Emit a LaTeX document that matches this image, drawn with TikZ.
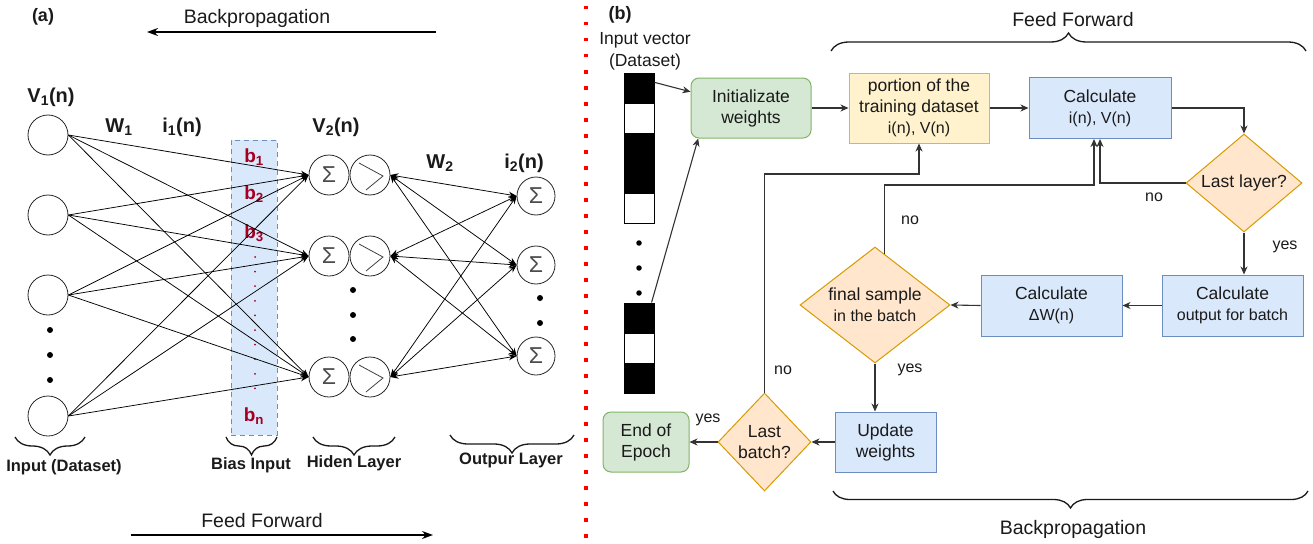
\documentclass[tikz,border=0pt]{standalone}
\usepackage{fontspec}
\setmainfont{Liberation Sans}
\usetikzlibrary{arrows.meta,shapes.geometric,decorations.pathreplacing,calc}
\definecolor{gfill}{HTML}{D5E8D4}
\definecolor{gdraw}{HTML}{82B366}
\definecolor{yfill}{HTML}{FFF2CC}
\definecolor{ydraw}{HTML}{D6B656}
\definecolor{bfill}{HTML}{DAE8FC}
\definecolor{bdraw}{HTML}{6C8EBF}
\definecolor{ofill}{HTML}{FFE6CC}
\definecolor{odraw}{HTML}{D79B00}
\definecolor{bred}{HTML}{A50021}
\definecolor{txt}{HTML}{1A1A1A}
\definecolor{conn}{HTML}{333333}
\begin{document}
\begin{tikzpicture}[x=1pt,y=-1pt,
  neuron/.style={circle,draw=black!85,line width=0.8pt,minimum size=40pt,inner sep=0pt},
  oneuron/.style={circle,draw=black!85,line width=0.8pt,minimum size=38pt,inner sep=0pt},
  sig/.style={text=black!70,font=\fontsize{23}{23}\selectfont},
  net/.style={line width=0.75pt,-{Stealth[length=8pt,width=6pt]}},
  netb/.style={line width=0.75pt,{Stealth[length=8pt,width=6pt]}-{Stealth[length=8pt,width=6pt]}},
  lbl/.style={font=\bfseries\fontsize{20}{23}\selectfont,text=txt},
  blbl/.style={font=\bfseries\fontsize{16.5}{19}\selectfont,text=txt},
  redlbl/.style={font=\bfseries\fontsize{19}{22}\selectfont,text=bred},
  blackdot/.style={circle,fill=black,inner sep=0pt,minimum size=6pt},
  reddot/.style={circle,fill=bred,inner sep=0pt,minimum size=2pt},
  brc/.style={decorate,decoration={brace,amplitude=#1},line width=1.3pt,draw=black!90},
  big/.style={font=\fontsize{19.5}{22}\selectfont,text=txt},
  box/.style={rectangle,line width=1pt,align=center,text=txt,font=\fontsize{17.5}{21}\selectfont,inner sep=0pt},
  dia/.style={diamond,aspect=1.2,fill=ofill,draw=odraw,line width=1pt,align=center,inner sep=0pt,text=txt,font=\fontsize{17.5}{21}\selectfont},
  flow/.style={line width=1.1pt,draw=conn,-{Stealth[length=8pt,width=7pt,inset=2.5pt]}},
  small/.style={font=\fontsize{16}{19}\selectfont,text=txt},
  vblk/.style={rectangle,draw=black,line width=1pt,minimum width=30pt,minimum height=30pt,inner sep=0pt}
]
\useasboundingbox (0,0) rectangle (1313,543);

% ---------------- (a) ----------------
\node[lbl,font=\bfseries\fontsize{18}{21}\selectfont] (alab) at (43,17) {(a)};
\node[big] (bptop) at (257,18) {Backpropagation};
\coordinate (bpa1) at (436,32);
\coordinate (bpa2) at (147,32);
\draw[line width=1.3pt,-{Stealth[length=11pt,width=8pt]}] (bpa1) -- (bpa2);

\node[big] (fftop) at (262,521) {Feed Forward};
\coordinate (ffa1) at (131,535);
\coordinate (ffa2) at (433,535);
\draw[line width=1.3pt,-{Stealth[length=11pt,width=8pt]}] (ffa1) -- (ffa2);

% bias box
\node[draw=bdraw,fill=bfill,dash pattern=on 5pt off 4pt,line width=1pt,minimum width=46pt,minimum height=295pt,inner sep=0pt] (bias) at (254,287.5) {};
\node[redlbl] (b1) at (254,157) {b\textsubscript{1}};
\node[redlbl] (b2) at (254,194) {b\textsubscript{2}};
\node[redlbl] (b3) at (254,233) {b\textsubscript{3}};
\node[redlbl] (bn) at (254,416) {b\textsubscript{n}};
\foreach \k in {0,...,9} \node[reddot] (bd\k) at (255,{257+14.6*\k}) {};

% input neurons
\node[neuron] (in1) at (48,135) {};
\node[neuron] (in2) at (48,215) {};
\node[neuron] (in3) at (48,295) {};
\node[neuron] (in4) at (48,416) {};
\node[blackdot] (id1) at (50,330) {};
\node[blackdot] (id2) at (50,355) {};
\node[blackdot] (id3) at (50,380) {};

% hidden neurons
\foreach \j/\y in {1/175,2/256,3/377}{
  \node[neuron,sig] (hs\j) at (329,\y) {Σ};
  \node[neuron] (ha\j) at (370,\y) {};
  \draw[line width=0.8pt,black!75] ($(ha\j)+(-11,-12)$) -- ($(ha\j)+(13,1)$) -- ($(ha\j)+(-4,15)$);
}
\node[blackdot] (hd1) at (353,290) {};
\node[blackdot] (hd2) at (353,315) {};
\node[blackdot] (hd3) at (353,339) {};

% output neurons
\node[oneuron,sig] (out1) at (536,196) {Σ};
\node[oneuron,sig] (out2) at (536,265) {Σ};
\node[oneuron,sig] (out3) at (536,356) {Σ};
\node[blackdot] (od1) at (540,298) {};
\node[blackdot] (od2) at (540,323) {};

% connections
\foreach \i in {1,...,4}
  \foreach \j in {1,2,3}
    \draw[net] (in\i.east) -- (hs\j.west);
\foreach \j in {1,2,3}
  \foreach \k in {1,2,3}
    \draw[netb] (ha\j.east) -- (out\k.west);

% labels
\node[lbl] (v1l) at (51,97) {V\textsubscript{1}(n)};
\node[lbl] (w1l) at (119,127) {W\textsubscript{1}};
\node[lbl] (i1l) at (182,127) {i\textsubscript{1}(n)};
\node[lbl] (v2l) at (336,127) {V\textsubscript{2}(n)};
\node[lbl] (w2l) at (440,163) {W\textsubscript{2}};
\node[lbl] (i2l) at (524,163) {i\textsubscript{2}(n)};

% braces
\draw[brc=18pt] (85,437) -- (15,437);
\draw[brc=18pt] (277,437) -- (226,437);
\draw[brc=18pt] (395,437) -- (313,437);
\draw[brc=18pt] (574,435) -- (450,435);
\node[blbl] (lin) at (64,467) {Input (Dataset)};
\node[blbl] (lbi) at (251,465) {Bias Input};
\node[blbl] (lhl) at (354,463) {Hiden Layer};
\node[blbl] (lol) at (511,460) {Outpur Layer};

% separator
\coordinate (sep1) at (586,6);
\coordinate (sep2) at (586,543);
\draw[red,line width=3.5pt,dash pattern=on 3.5pt off 12.5pt] (sep1) -- (sep2);

% ---------------- (b) ----------------
\node[lbl,font=\bfseries\fontsize{18}{21}\selectfont] (blab) at (620,15) {(b)};
\node[align=center,font=\fontsize{17.5}{22}\selectfont,text=txt] (ivt) at (645,51) {Input vector\\(Dataset)};

\node[vblk,fill=black] (v1) at (639,88) {};
\node[vblk,fill=white] (v2) at (639,118) {};
\node[vblk,fill=black] (v3) at (639,148) {};
\node[vblk,fill=black] (v4) at (639,178) {};
\node[vblk,fill=white] (v5) at (639,208) {};
\node[blackdot,minimum size=5.5pt] (vd1) at (639,243) {};
\node[blackdot,minimum size=5.5pt] (vd2) at (639,268) {};
\node[blackdot,minimum size=5.5pt] (vd3) at (639,293) {};
\node[vblk,fill=black] (v6) at (639,318) {};
\node[vblk,fill=white] (v7) at (639,348) {};
\node[vblk,fill=black] (v8) at (639,378) {};

\node[box,rounded corners=8pt,fill=gfill,draw=gdraw,minimum width=120pt,minimum height=60pt] (init) at (751,108) {Initializate\\weights};
\node[box,fill=yfill,draw=ydraw,minimum width=140pt,minimum height=70pt] (port) at (919,108) {portion of the\\training dataset\\{\fontsize{16}{19}\selectfont i(n), V(n)}};
\node[box,fill=bfill,draw=bdraw,minimum width=142pt,minimum height=61pt] (calc) at (1100,108) {Calculate\\{\fontsize{16}{19}\selectfont i(n), V(n)}};
\node[dia,minimum width=116pt,minimum height=98pt] (ll) at (1244,183) {Last layer?};
\node[box,fill=bfill,draw=bdraw,minimum width=141pt,minimum height=61pt] (cout) at (1232.5,305.5) {Calculate\\{\fontsize{16}{19}\selectfont output for batch}};
\node[box,fill=bfill,draw=bdraw,minimum width=141pt,minimum height=61pt] (cdw) at (1051.5,305.5) {Calculate\\{\fontsize{16}{19}\selectfont ΔW(n)}};
\node[dia,aspect=1.3,minimum width=150pt,minimum height=116pt] (fs) at (875,305) {final sample\\{\fontsize{16}{19}\selectfont in the batch}};
\node[box,fill=bfill,draw=bdraw,minimum width=101pt,minimum height=60pt] (upd) at (885.5,442) {Update\\weights};
\node[dia,aspect=0.95,minimum width=93pt,minimum height=98pt] (lb) at (764.5,442) {Last\\batch?};
\node[box,rounded corners=8pt,fill=gfill,draw=gdraw,minimum width=86pt,minimum height=60pt] (eoe) at (646,442) {End of\\Epoch};

% vector arrows
\draw[flow] (v1.20) -- (init.165);
\draw[flow] (v6.51) -- (init.210);

% flow connectors
\draw[flow] (init.east) -- (port.west);
\draw[flow] (port.east) -- (calc.west);
\draw[flow] (calc.east) -| (ll.north);
\draw[flow] (ll.west) -| (calc.south);
\node[small] (nol) at (1154,197) {no};
\draw[flow] (ll.south) -- (ll.south |- cout.north);
\node[small] (yesl) at (1285,247) {yes};
\draw[flow] (cout.west) -- (cdw.east);
\draw[flow] (cdw.west) -- (fs.east);
\draw[flow] (fs.south) -- (fs.south |- upd.north);
\node[small] (yesf) at (910,370) {yes};
\coordinate (fsJ) at (1094,185);
\draw[flow] (fs.80) |- (fsJ) -- (fsJ |- calc.south);
\node[small] (nof) at (910,220) {no};
\draw[flow] (upd.west) -- (lb.east);
\draw[flow] (lb.west) -- (eoe.east);
\node[small] (yesb) at (708,420) {yes};
\coordinate (lbJ) at (764.5,174);
\draw[flow] (lb.north) -- (lbJ) -| (port.south);
\node[small] (nob) at (783,370) {no};

% braces right
\draw[brc=18pt] (831,51) -- (1306,51);
\node[big] (fft) at (1073,20) {Feed Forward};
\draw[brc=17pt] (1308,491) -- (833,491);
\node[big] (bpt) at (1073,529) {Backpropagation};
\end{tikzpicture}
\end{document}
